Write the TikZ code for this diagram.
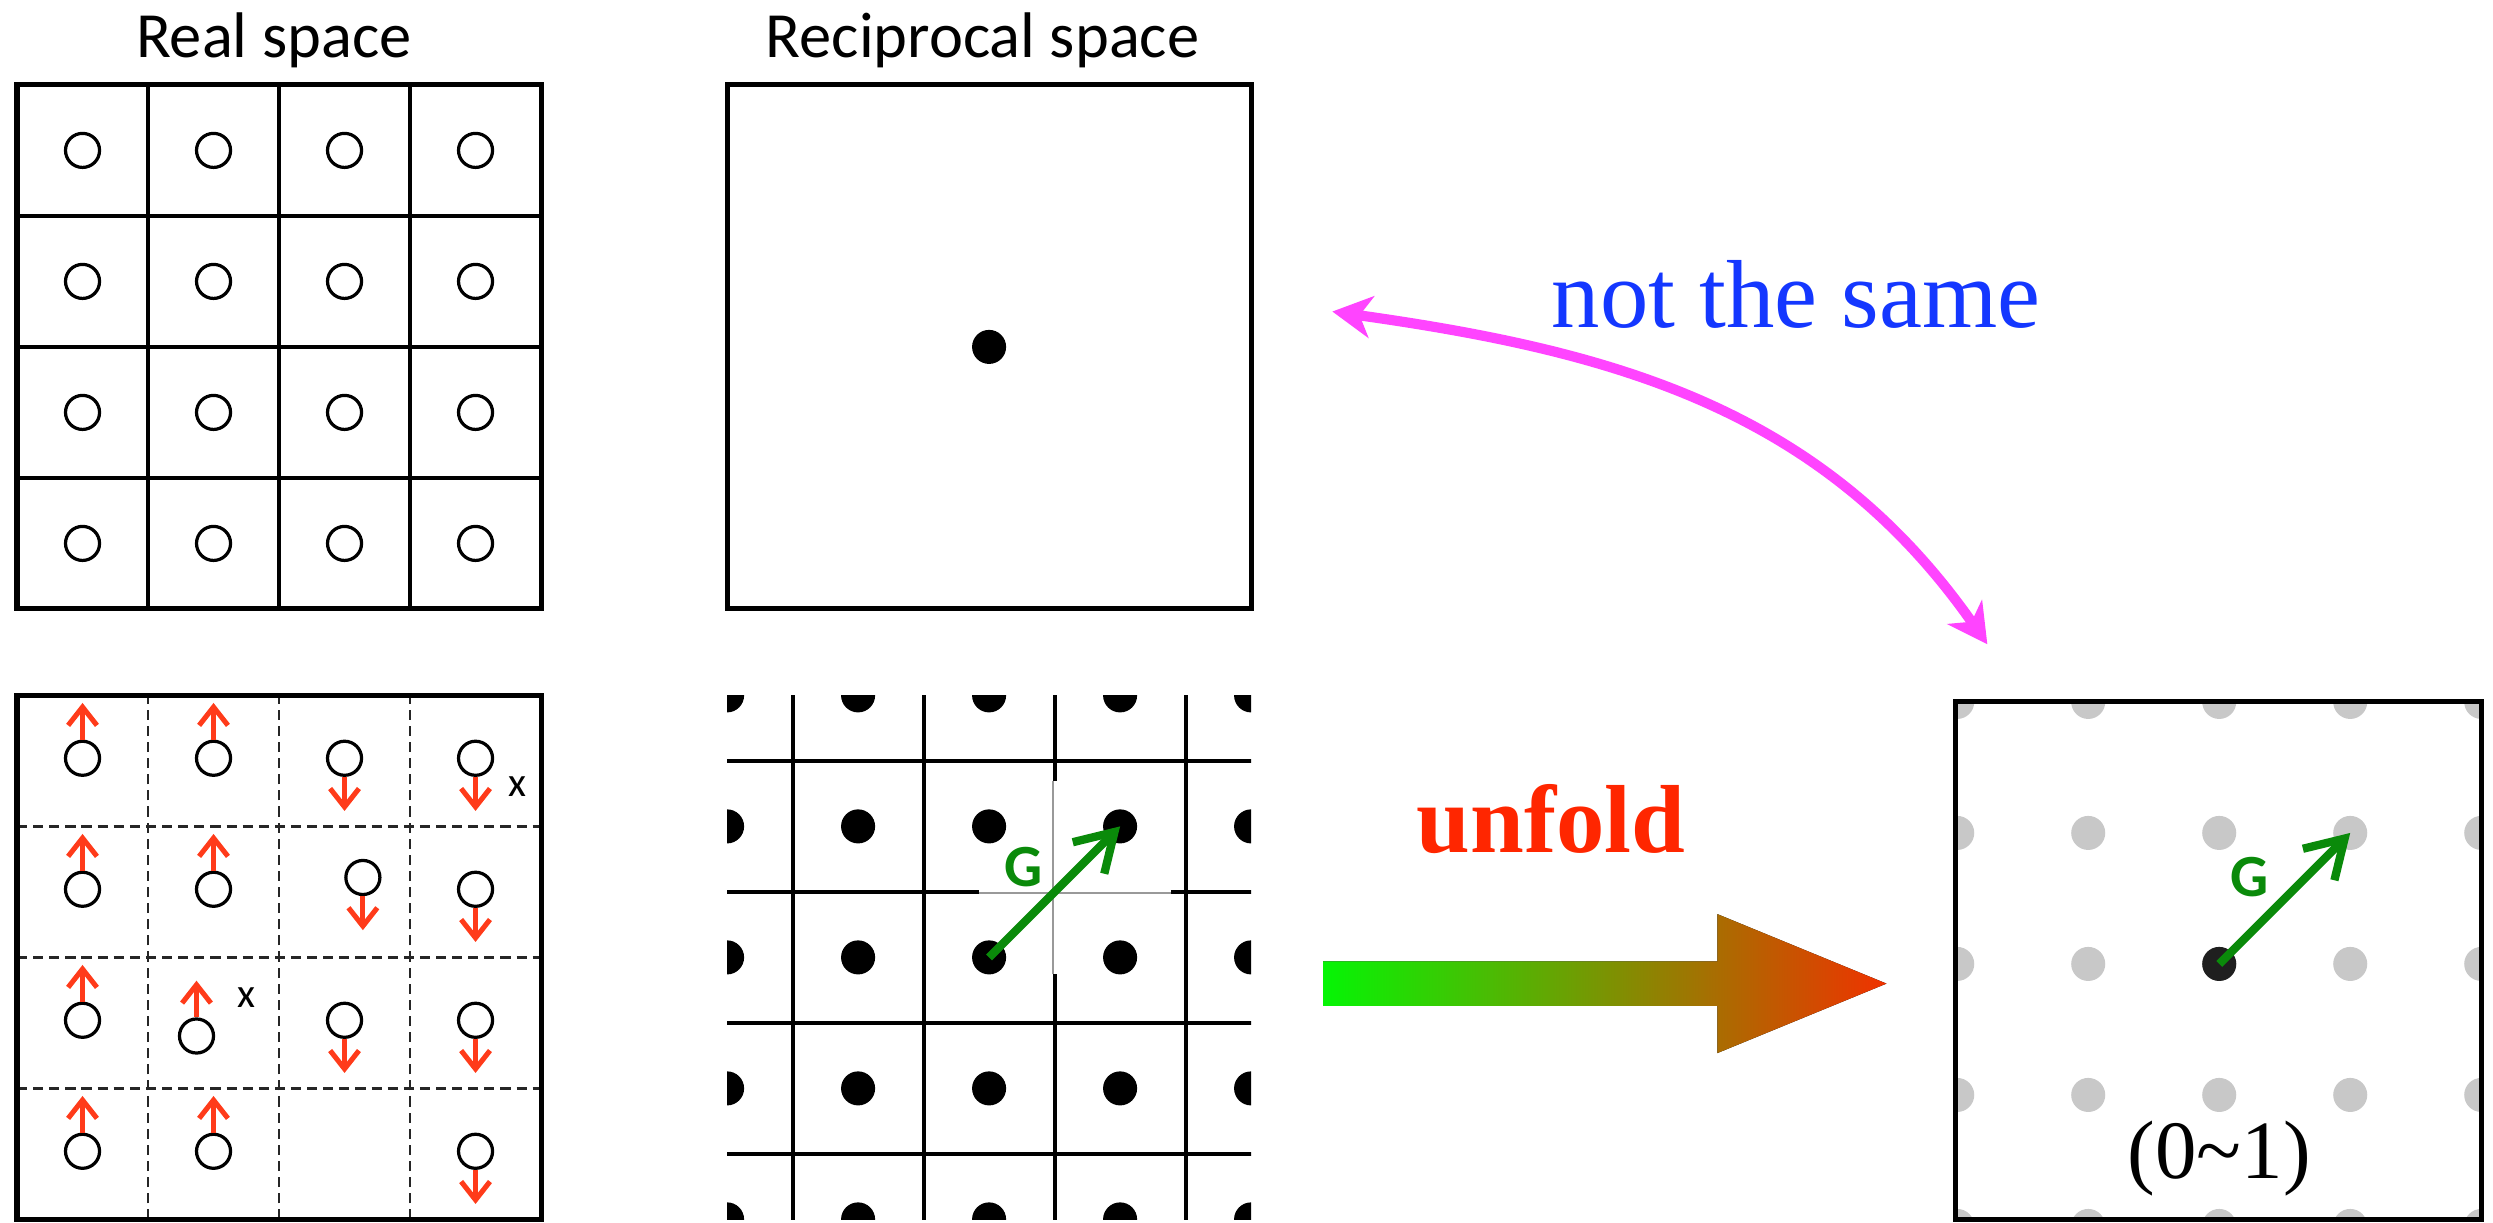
\documentclass[tikz,border=0pt]{standalone}
\usepackage{fontspec}
\setmainfont{Liberation Serif}
\newfontfamily\calibrifont{Carlito}
\usepackage{tikz}
\usetikzlibrary{arrows.meta, positioning, calc}
\usepackage{xcolor}
\definecolor{SpinRed}{HTML}{FF3B1A}
\definecolor{VecGreen}{HTML}{0A8A0A}
\definecolor{DotGray}{HTML}{C8C8C8}
\definecolor{NoteBlue}{HTML}{1437FF}
\definecolor{LinkMagenta}{HTML}{FF44FF}
\definecolor{UnfoldRed}{HTML}{FF2600}
\definecolor{ShadeGreen}{HTML}{05F505}
\definecolor{ShadeRed}{HTML}{F03200}
\tikzset{
    % frames and cell lines
    boxframe/.style={draw=black, line width=1.1pt},
    cellline/.style={draw=black, line width=0.85pt},
    superline/.style={draw=black!85, line width=0.55pt, dash pattern=on 2.2pt off 1.3pt},
    % lattice sites
    site/.style={circle, draw=black, line width=0.7pt, minimum size=0.26cm, inner sep=0pt},
    kdot/.style={circle, fill=black, minimum size=0.26cm, inner sep=0pt},
    graydot/.style={circle, fill=DotGray, minimum size=0.26cm, inner sep=0pt},
    % texts
    spacetitle/.style={font=\calibrifont\fontsize{14}{16}\selectfont, anchor=base},
    defect/.style={font=\calibrifont\fontsize{9}{10}\selectfont, inner sep=0pt},
    glabel/.style={font=\calibrifont\bfseries\fontsize{13}{15}\selectfont, text=VecGreen, inner sep=0pt},
    % arrows
    spin/.style={-{Straight Barb[length=1.4mm, width=2.2mm]}, draw=SpinRed, line width=1.1pt},
    gvec/.style={-{Straight Barb[length=2.8mm, width=3.4mm]}, draw=VecGreen, line width=1.8pt},
    linkarrow/.style={{Stealth[length=3mm, width=3.2mm, inset=0.9mm]}-{Stealth[length=3mm, width=3.2mm, inset=0.9mm]},
        draw=LinkMagenta, line width=2.2pt}
}

\begin{document}
\begin{tikzpicture}
    \useasboundingbox (0,0) rectangle (19.03,9.328);

    % real space, primitive cells
    \node[spacetitle] (realtitle) at (2.09,8.89) {Real space};
    \begin{scope}[shift={(0.13,4.68)}]
        \draw[cellline] (0,0) grid (4,4);
        \draw[boxframe] (0,0) rectangle (4,4);
        \foreach \i in {0,...,3}
            \foreach \j in {0,...,3}
                \node[site] (r\i\j) at (\i+0.5,\j+0.5) {};
    \end{scope}

    % reciprocal space, primitive cell
    \node[spacetitle] (rectitle) at (7.50,8.89) {Reciprocal space};
    \draw[boxframe] (5.55,4.68) rectangle (9.55,8.68);
    \node[kdot] (gamma) at (7.55,6.68) {};

    % real space, supercell with spins
    \begin{scope}[shift={(0.13,0.02)}]
        \draw[superline] (0,0) grid (4,4);
        \draw[boxframe] (0,0) rectangle (4,4);
        \foreach \n/\x/\y in {sa/0.5/3.52, sb/1.5/3.52, sc/0.5/2.52, sd/1.5/2.52,
                             se/0.5/1.52, sf/1.37/1.40, sg/0.5/0.52, sh/1.5/0.52}{
            \node[site] (\n) at (\x,\y) {};
            \draw[spin] (\n.north) -- ++(0,0.28);
        }
        \foreach \n/\x/\y in {si/2.5/3.52, sj/3.5/3.52, sk/2.64/2.61, sl/3.5/2.52,
                             sm/2.5/1.52, so/3.5/1.52, sp/3.5/0.52}{
            \node[site] (\n) at (\x,\y) {};
            \draw[spin] (\n.south) -- ++(0,-0.26);
        }
        \node[defect] (xa) at (3.82,3.30) {x};
        \node[defect] (xb) at (1.75,1.69) {x};
    \end{scope}

    % reciprocal space, supercell
    \begin{scope}[shift={(5.55,0.02)}]
        \clip (0,0) rectangle (4,4);
        \begin{scope}[shift={(0.5,0.5)}]
            \draw[cellline] (-1,-1) grid (4,4);
        \end{scope}
        \foreach \i in {0,...,4}
            \foreach \j in {0,...,4}
                \node[kdot] (k\i\j) at (\i,\j) {};
    \end{scope}
    % faint cell edges under G
    \draw[white, line width=1.6pt] (8.05,1.89) -- (8.05,3.37) (7.47,2.52) -- (8.94,2.52);
    \draw[black!40, line width=0.4pt] (8.04,1.89) -- (8.04,3.37) (7.47,2.51) -- (8.94,2.51);
    \draw[gvec] (k22.center) -- (k33.center);
    \node[glabel] (gk) at (7.81,2.71) {G};

    % unfolded picture
    \begin{scope}
        \clip (14.93,0.02) rectangle (18.94,3.97);
        \foreach \i in {0,...,4}
            \foreach \j in {0,...,4}
                \node[graydot] (u\i\j) at (14.94+\i,-0.03+\j) {};
    \end{scope}
    \node[kdot, fill=black!88] (u0) at (16.94,1.97) {};
    \draw[boxframe] (14.93,0.02) rectangle (18.94,3.97);
    \draw[gvec] (u0.center) -- (u33.center);
    \node[glabel] (gu) at (17.17,2.63) {G};
    \node[font=\fontsize{18}{20}\selectfont, anchor=base] (range) at (16.94,0.336) {(0\textasciitilde1)};

    % comparison
    \node[font=\fontsize{21}{24}\selectfont, text=NoteBlue, anchor=base west] (same) at (11.72,6.83) {not the same};
    \coordinate (linka) at (10.17,6.95);
    \coordinate (linkb) at (15.17,4.41);
    \draw[linkarrow] (linka) to[out=-8, in=125] (linkb);

    % unfolding
    \node[font=\bfseries\fontsize{21}{24}\selectfont, text=UnfoldRed, anchor=base] (unfold) at (11.84,2.82) {unfold};
    \fill[left color=ShadeGreen, right color=ShadeRed]
        (10.10,1.65) -- (13.11,1.65) -- (13.11,1.29) -- (14.40,1.82)
        -- (13.11,2.35) -- (13.11,1.99) -- (10.10,1.99) -- cycle;
\end{tikzpicture}
\end{document}
